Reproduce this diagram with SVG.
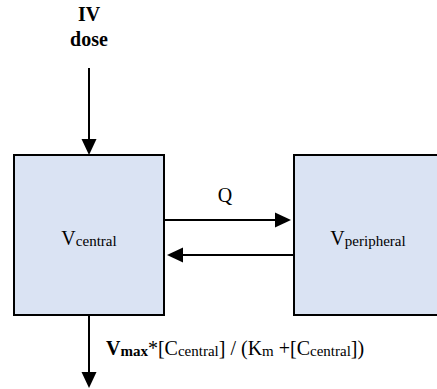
<svg xmlns="http://www.w3.org/2000/svg" width="437" height="389" viewBox="0 0 437 389" font-family="'Liberation Serif', 'Times New Roman', serif">
<style>
text, tspan{font-family:"Liberation Serif","Times New Roman",serif}
text{font-size:20px;fill:#000}
.b{font-weight:bold}
.sub{font-size:15px}
.box{fill:#dae3f3;stroke:#000;stroke-width:2}
.ln{stroke:#000;stroke-width:2;fill:none}
</style>
<defs>
<marker id="ah" markerUnits="userSpaceOnUse" markerWidth="16" markerHeight="15" refX="0" refY="7.5" orient="auto" overflow="visible">
<path d="M0,0 L16,7.5 L0,15 Z" fill="#000"/>
</marker>
</defs>
<g id="iv-dose">
<text class="b" x="89" y="21" text-anchor="middle">IV</text>
<text class="b" x="89" y="46" text-anchor="middle">dose</text>
</g>
<g id="central">
<rect class="box" x="14" y="155" width="150" height="160"/>
<text x="89" y="245" text-anchor="middle">V<tspan class="sub" dy="1">central</tspan></text>
</g>
<g id="peripheral">
<rect class="box" x="294" y="155" width="150" height="160"/>
<text x="368" y="245" text-anchor="middle">V<tspan class="sub" dy="1">peripheral</tspan></text>
</g>
<g id="connectors">
<line class="ln" x1="89" y1="68" x2="89" y2="139" marker-end="url(#ah)"/>
<line class="ln" x1="165" y1="220" x2="275" y2="220" marker-end="url(#ah)"/>
<text x="225" y="202" text-anchor="middle">Q</text>
<line class="ln" x1="293" y1="255" x2="183" y2="255" marker-end="url(#ah)"/>
<line class="ln" x1="89" y1="316" x2="89" y2="372" marker-end="url(#ah)"/>
<text x="106" y="355"><tspan class="b">V</tspan><tspan class="b sub" dy="1">max</tspan><tspan dy="-1">*[C</tspan><tspan class="sub" dy="1">central</tspan><tspan dy="-1">] / (K</tspan><tspan class="sub" dy="1">m</tspan><tspan dy="-1"> +[C</tspan><tspan class="sub" dy="1">central</tspan><tspan dy="-1">])</tspan></text>
</g>
</svg>
